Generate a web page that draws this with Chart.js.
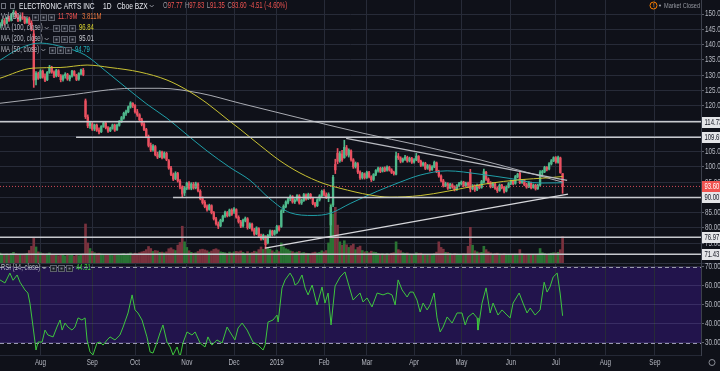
<!DOCTYPE html>
<html>
<head>
<meta charset="utf-8">
<title>Electronic Arts Inc - 1D - Cboe BZX</title>
<script src="https://cdn.jsdelivr.net/npm/chart.js@4.4.1/dist/chart.umd.min.js"></script>
<style>
    html, body { margin: 0; padding: 0; background: #0f1119; overflow: hidden; }
    canvas { display: block; }
</style>
</head>
<body>
<canvas id="price-chart" width="720" height="263"></canvas>
<canvas id="rsi-chart" width="720" height="108"></canvas>
<script>
// EA daily chart: price pane (candles, volume, MAs, drawn levels) + RSI pane

// x values are trading-day indexes, 0 = first candle on screen (early Jul 2018)
const monthIdx = [18, 41, 60, 83, 104, 123, 144, 163, 184, 205, 227, 247, 269, 291];
const monthLabels = ['Aug', 'Sep', 'Oct', 'Nov', 'Dec', '2019', 'Feb', 'Mar', 'Apr', 'May', 'Jun', 'Jul', 'Aug', 'Sep'];

const priceTicks = [75, 80, 85, 90, 95, 100, 105, 110, 115, 120, 125, 130, 135, 140, 145, 150];
const rsiTicks = [30, 40, 50, 60, 70];

const opens = [
    146.0, 146.9, 147.8, 147.0, 148.5, 148.0, 149.8, 150.5, 149.0, 148.0,
    149.0, 148.6, 147.3, 148.4, 147.0, 143.5, 128.5, 130.5, 129.2, 131.2,
    129.5, 128.5, 131.0, 132.4, 131.0, 129.8, 131.4, 129.8, 128.6, 129.8,
    130.2, 128.8, 129.7, 131.2, 130.0, 128.7, 130.5, 131.6, 121.6, 116.3,
    113.5, 114.0, 112.4, 113.6, 112.0, 111.5, 113.2, 114.3, 112.8, 111.8,
    112.6, 113.6, 112.1, 113.6, 114.9, 116.0, 117.5, 118.0, 119.6, 120.8,
    120.0, 118.0, 117.0, 115.4, 114.0, 112.2, 109.8, 107.0, 105.6, 106.6,
    104.0, 103.3, 104.8, 103.1, 104.4, 102.0, 99.6, 97.5, 96.2, 97.8,
    95.3, 93.4, 91.5, 93.0, 94.5, 93.0, 94.3, 93.2, 94.4, 92.0,
    89.6, 88.4, 87.0, 86.1, 87.3, 85.0, 83.0, 81.3, 80.7, 82.4,
    83.9, 85.0, 84.1, 85.8, 85.5, 86.0, 83.5, 82.0, 80.7, 82.5,
    83.0, 80.2, 81.2, 79.4, 78.1, 79.8, 77.4, 76.5, 77.2, 75.2,
    77.5, 79.0, 78.0, 78.5, 80.3, 80.5, 85.7, 87.0, 88.4, 89.5,
    90.2, 88.6, 89.2, 90.5, 88.2, 89.0, 90.8, 89.6, 91.0, 89.8,
    88.0, 87.3, 89.2, 90.6, 92.0, 90.8, 89.8, 81.0, 87.5, 100.8,
    104.5, 102.0, 104.2, 103.0, 106.2, 103.8, 105.2, 102.3, 100.1, 101.0,
    98.3, 96.5, 97.7, 96.5, 98.1, 96.7, 95.9, 97.5, 98.8, 99.5,
    98.6, 99.6, 98.9, 99.8, 99.0, 98.2, 97.6, 103.5, 102.9, 101.9,
    102.5, 103.1, 102.0, 102.7, 101.6, 102.3, 103.4, 101.8, 100.6, 101.1,
    99.6, 100.3, 99.1, 100.0, 101.3, 98.4, 97.0, 95.4, 93.9, 94.4,
    93.1, 94.1, 93.4, 92.6, 93.8, 94.5, 95.0, 93.9, 94.6, 98.0,
    92.9, 93.8, 92.6, 94.0, 93.3, 95.0, 98.2, 96.0, 94.8, 93.6,
    94.4, 93.0, 92.3, 94.0, 93.2, 92.1, 93.4, 94.6, 95.3, 94.6,
    96.8, 97.9, 94.9, 95.5, 94.2, 93.5, 94.7, 93.3, 94.0, 92.9,
    94.0, 98.1, 98.5, 99.8, 99.3, 101.0, 102.0, 103.0, 101.5, 102.9,
    97.77
];
const highs = [
    147.2, 148.3, 148.5, 149.0, 149.3, 150.2, 151.3, 151.0, 149.8, 149.6,
    150.4, 149.2, 148.8, 149.0, 147.8, 144.8, 131.2, 131.0, 131.8, 131.7,
    130.4, 131.2, 133.2, 132.9, 131.4, 131.9, 131.8, 130.2, 130.1, 130.8,
    130.6, 130.0, 131.6, 131.5, 130.3, 130.8, 132.0, 132.2, 122.2, 117.0,
    114.6, 114.5, 114.0, 114.0, 112.8, 113.5, 114.8, 114.7, 113.2, 113.0,
    114.0, 114.0, 114.0, 115.2, 116.5, 117.9, 118.6, 119.9, 121.3, 121.0,
    120.4, 118.8, 117.4, 115.9, 114.5, 112.6, 110.4, 107.8, 107.3, 107.0,
    104.8, 105.3, 105.2, 104.9, 104.8, 102.4, 100.2, 98.0, 98.4, 98.2,
    95.8, 93.8, 93.6, 95.0, 95.2, 94.8, 94.9, 95.0, 94.8, 92.5,
    90.2, 89.0, 87.6, 87.8, 87.6, 85.4, 83.5, 82.0, 82.9, 84.2,
    85.5, 85.4, 86.2, 86.3, 86.7, 86.3, 84.0, 82.5, 82.9, 83.6,
    83.4, 81.7, 81.6, 79.9, 80.4, 80.1, 78.0, 78.0, 77.5, 77.9,
    79.4, 79.3, 79.3, 80.9, 80.8, 86.0, 87.6, 88.9, 90.0, 90.8,
    90.6, 89.6, 90.9, 90.9, 89.5, 91.3, 91.2, 91.4, 91.3, 90.1,
    88.4, 89.6, 90.9, 92.4, 92.6, 91.5, 91.5, 87.5, 97.2, 102.5,
    106.0, 105.0, 105.4, 108.7, 107.0, 105.9, 105.6, 102.7, 101.6, 101.4,
    98.7, 98.2, 98.0, 98.6, 98.5, 97.1, 97.8, 99.1, 99.9, 99.9,
    99.9, 100.0, 100.3, 100.2, 99.4, 98.6, 104.8, 104.4, 103.3, 102.9,
    103.8, 103.5, 103.2, 103.1, 102.7, 104.4, 103.7, 102.2, 101.6, 101.5,
    100.8, 100.7, 100.4, 101.9, 101.6, 98.9, 97.4, 95.9, 95.0, 94.8,
    94.6, 94.5, 93.8, 94.2, 94.9, 95.4, 95.3, 95.0, 95.0, 99.2,
    94.2, 94.1, 94.4, 94.3, 95.6, 99.3, 98.5, 96.4, 95.2, 94.9,
    94.8, 93.5, 94.4, 94.3, 93.6, 93.8, 94.9, 95.7, 95.6, 97.2,
    97.9, 98.3, 95.9, 95.8, 94.6, 95.2, 95.0, 94.4, 94.3, 94.3,
    98.8, 98.9, 100.2, 100.1, 101.4, 102.4, 103.3, 103.4, 103.5, 103.2,
    97.83
];
const lows = [
    145.4, 146.2, 146.4, 146.8, 147.6, 147.7, 149.0, 148.8, 147.5, 147.6,
    148.2, 146.8, 146.9, 146.5, 144.5, 126.0, 126.8, 128.6, 128.9, 129.0,
    127.9, 128.2, 130.6, 130.6, 129.2, 129.4, 129.5, 127.8, 128.0, 129.0,
    128.3, 128.1, 129.3, 129.7, 128.2, 128.3, 130.1, 129.8, 115.8, 112.8,
    112.6, 111.9, 111.8, 111.6, 110.8, 111.2, 112.9, 112.4, 111.3, 111.5,
    112.3, 111.6, 111.9, 113.3, 114.5, 115.6, 116.8, 117.7, 119.2, 119.4,
    117.6, 116.5, 115.0, 113.4, 111.8, 109.5, 106.5, 105.0, 105.1, 103.6,
    102.7, 103.0, 102.6, 102.8, 102.0, 99.2, 97.1, 95.5, 95.8, 95.0,
    92.8, 90.2, 90.6, 92.5, 92.6, 92.5, 92.7, 92.8, 91.8, 89.2,
    87.8, 86.6, 85.5, 85.8, 84.6, 82.6, 80.9, 79.8, 80.4, 82.0,
    83.5, 83.6, 83.8, 84.1, 84.8, 83.2, 81.6, 80.1, 80.3, 82.0,
    79.6, 79.8, 79.0, 77.6, 77.8, 77.0, 76.0, 76.1, 73.4, 74.8,
    77.0, 77.4, 77.6, 78.2, 79.0, 80.2, 85.0, 86.6, 87.9, 88.9,
    88.1, 88.0, 88.8, 87.8, 87.7, 88.7, 89.1, 89.3, 89.5, 87.6,
    86.8, 87.0, 88.8, 90.2, 90.5, 89.6, 88.6, 77.5, 87.0, 97.8,
    101.0, 101.5, 101.8, 102.8, 103.5, 103.2, 101.9, 99.5, 99.6, 97.8,
    95.9, 96.0, 96.0, 96.2, 96.4, 95.2, 95.5, 97.1, 98.3, 98.1,
    98.3, 98.4, 98.6, 98.6, 97.8, 97.3, 97.4, 102.4, 101.3, 101.5,
    102.1, 101.5, 101.6, 101.1, 101.2, 102.0, 101.4, 100.1, 100.2, 99.1,
    99.2, 98.6, 98.8, 99.7, 98.1, 96.6, 95.1, 93.4, 93.5, 92.6,
    92.8, 93.0, 92.1, 92.3, 93.4, 94.1, 93.4, 93.5, 93.2, 91.8,
    92.5, 92.0, 92.2, 92.8, 93.0, 94.7, 95.6, 94.4, 93.1, 93.2,
    92.6, 91.6, 92.0, 92.8, 91.5, 91.8, 93.1, 94.2, 94.1, 94.3,
    96.4, 94.5, 94.6, 93.8, 93.0, 93.2, 92.8, 93.0, 92.4, 92.6,
    93.7, 97.4, 98.1, 98.7, 99.0, 100.6, 101.7, 101.2, 101.2, 97.9,
    91.35
];
const closes = [
    146.8, 147.9, 146.9, 148.6, 147.9, 149.8, 150.6, 149.2, 147.9, 149.1,
    148.6, 147.2, 148.4, 146.9, 145.2, 128.4, 130.6, 129.0, 131.4, 129.4,
    128.3, 130.9, 132.6, 131.0, 129.6, 131.5, 129.9, 128.5, 129.7, 130.3,
    128.7, 129.6, 131.3, 130.0, 128.6, 130.5, 131.7, 130.2, 116.4, 113.4,
    114.2, 112.3, 113.7, 112.0, 111.4, 113.2, 114.4, 112.8, 111.7, 112.7,
    113.7, 112.0, 113.6, 114.9, 116.1, 117.5, 118.1, 119.6, 120.9, 120.0,
    118.0, 117.0, 115.4, 113.9, 112.2, 110.0, 107.0, 105.5, 106.8, 104.0,
    103.2, 104.9, 103.0, 104.5, 102.4, 99.6, 97.5, 96.0, 97.9, 95.4,
    93.4, 91.1, 93.1, 94.6, 93.0, 94.4, 93.1, 94.5, 92.2, 89.6,
    88.3, 87.0, 86.0, 87.4, 85.0, 83.0, 81.4, 80.6, 82.5, 83.9,
    85.1, 84.0, 85.9, 84.5, 86.2, 83.6, 82.1, 80.6, 82.5, 83.1,
    80.1, 81.3, 79.4, 78.0, 80.0, 77.4, 76.4, 77.6, 74.6, 77.6,
    79.0, 77.9, 79.0, 80.5, 79.4, 85.6, 87.1, 88.5, 89.6, 90.3,
    88.5, 89.1, 90.6, 88.2, 89.1, 90.9, 89.5, 91.0, 89.9, 88.0,
    87.3, 89.2, 90.5, 92.0, 91.0, 90.0, 91.0, 86.8, 96.6, 99.0,
    101.8, 104.3, 102.3, 106.4, 104.0, 105.4, 102.4, 100.0, 101.2, 98.3,
    96.4, 97.8, 96.4, 98.2, 96.8, 95.8, 97.5, 98.8, 99.5, 98.5,
    99.6, 98.8, 99.9, 99.0, 98.2, 97.8, 103.6, 103.0, 101.8, 102.5,
    103.2, 101.9, 102.8, 101.5, 102.3, 103.5, 101.8, 100.5, 101.2, 99.5,
    100.4, 99.0, 100.0, 101.5, 98.5, 97.0, 95.5, 93.8, 94.5, 93.0,
    94.2, 93.5, 92.5, 93.8, 94.5, 95.0, 93.8, 94.6, 94.0, 92.8,
    93.8, 92.5, 94.0, 93.2, 95.2, 98.4, 96.0, 94.8, 93.5, 94.5,
    93.0, 92.2, 94.0, 93.2, 92.0, 93.4, 94.5, 95.3, 94.5, 96.8,
    97.5, 94.8, 95.5, 94.2, 93.4, 94.8, 93.2, 94.0, 92.8, 93.9,
    98.2, 98.5, 99.8, 99.2, 101.0, 102.0, 103.0, 101.6, 103.1, 98.11,
    93.60
];
// volume in millions of shares
const volumes = [
    4.5, 3.8, 3.5, 4.0, 3.6, 4.2, 4.8, 4.1, 3.9, 3.7,
    3.6, 4.0, 4.3, 5.6, 7.5, 11.5, 7.2, 5.0, 4.6, 4.2,
    4.0, 4.1, 4.5, 3.6, 3.5, 3.4, 3.3, 3.9, 3.6, 3.2,
    3.5, 3.4, 3.5, 3.1, 3.6, 3.3, 3.5, 4.0, 17.5, 9.0,
    6.5, 5.2, 4.6, 4.2, 4.4, 4.0, 3.9, 3.7, 3.8, 3.5,
    3.4, 3.6, 3.5, 3.7, 4.0, 4.2, 3.9, 4.1, 4.5, 3.8,
    4.4, 4.1, 4.6, 5.0, 5.3, 6.0, 7.4, 6.5, 5.2, 5.6,
    5.4, 4.8, 4.9, 4.6, 5.0, 6.4, 6.8, 6.0, 5.6, 8.0,
    9.2, 16.5, 9.5, 7.0, 5.5, 4.8, 4.4, 4.6, 5.2, 6.0,
    6.2, 5.9, 5.5, 4.9, 5.4, 6.1, 6.4, 5.9, 5.0, 4.8,
    4.6, 4.2, 4.9, 4.5, 5.0, 5.2, 5.0, 5.4, 4.8, 4.2,
    5.1, 4.4, 4.7, 5.3, 5.0, 6.0, 7.2, 6.1, 6.8, 7.0,
    6.2, 5.5, 4.9, 5.8, 5.1, 9.0, 7.2, 6.4, 6.0, 5.4,
    5.1, 4.6, 4.9, 5.2, 4.5, 4.7, 4.4, 4.3, 4.1, 4.6,
    4.9, 4.5, 4.8, 5.5, 5.0, 5.6, 9.0, 26.5, 22.0, 25.0,
    17.0, 9.5, 8.0, 10.0, 8.2, 7.0, 7.8, 8.5, 6.0, 7.0,
    7.6, 5.6, 5.0, 5.2, 4.6, 5.3, 4.9, 4.8, 4.3, 4.0,
    4.1, 3.9, 4.2, 3.8, 4.4, 4.6, 9.5, 6.0, 5.5, 4.6,
    4.4, 4.5, 4.0, 3.9, 3.8, 4.6, 4.3, 4.4, 3.6, 3.9,
    3.5, 3.7, 3.4, 4.1, 4.9, 9.5, 7.0, 6.2, 4.8, 4.7,
    4.3, 3.9, 4.2, 4.0, 3.8, 3.7, 4.1, 4.0, 7.5, 16.0,
    8.0, 5.5, 5.0, 4.6, 4.8, 7.5, 6.0, 5.0, 4.5, 4.0,
    4.2, 4.4, 4.0, 3.7, 4.1, 3.9, 3.8, 3.6, 3.5, 4.0,
    3.9, 6.0, 4.1, 3.8, 3.7, 3.6, 3.9, 3.5, 3.8, 3.6,
    6.5, 4.6, 4.2, 3.9, 4.1, 4.4, 4.6, 4.5, 4.8, 6.0,
    11.79
];
const volumeMa20 = 3.811;

// moving averages at a few points each
const ma100Idx = [0, 14.7, 26.7, 38.7, 48.9, 62.2, 74.2, 83.1, 92, 100.9, 106.7, 115.6, 124.4, 133.3, 143.6, 151.1, 164.4, 173.3, 186.7, 198.7, 205.8, 216.4, 231.1, 243.1, 250];
const ma100Val = [129.0, 132.3, 132.5, 133.3, 132.5, 131.0, 128.4, 125.1, 120.8, 115.6, 112.3, 107.0, 102.0, 98.0, 94.6, 93.0, 90.8, 90.1, 90.6, 92.0, 93.0, 94.5, 95.8, 96.4, 96.84];
const ma200Idx = [0, 29.8, 59.1, 71.1, 88.9, 106.7, 132, 161.3, 186.7, 213.3, 231.1, 250];
const ma200Val = [120.8, 123.4, 125.7, 125.7, 124.1, 120.8, 116.2, 111.0, 107.0, 102.3, 98.8, 95.01];
const ma50Idx = [0, 8.9, 17.8, 28.9, 37.8, 46.7, 56.4, 65.3, 74.2, 83.1, 92, 102.2, 111.1, 120, 128.9, 139.1, 146.7, 155.6, 167.6, 177.8, 186.7, 198.7, 213.3, 226.7, 240, 250];
const ma50Val = [134.9, 138.8, 140.5, 139.0, 136.6, 131.5, 125.7, 120.5, 115.9, 110.5, 105.2, 99.8, 95.6, 89.5, 85.0, 84.1, 84.8, 88.0, 92.0, 95.0, 97.3, 98.7, 97.6, 96.2, 94.7, 94.79];

// user drawings: horizontal levels and two trend lines
const levelValues = [114.73, 109.65, 90.00, 76.97, 71.43];
const levelStart = [0, 33.8, 76.9, 0, 0];
const supportIdx = [117.8, 252.4];
const supportVal = [73.4, 91.1];
const resistIdx = [153.8, 252.0];
const resistVal = [109.3, 95.6];

// RSI (14, close)
const rsiIdx = [
    0, 2.2, 4.4, 5.8, 7.6, 8.9, 11.1, 12.4, 13.3, 14.7,
    16, 16.9, 18.7, 20, 21.3, 23.6, 25.3, 26.7, 27.6, 28.9,
    30.2, 32, 33.3, 34.7, 36.4, 37.8, 38.7, 40, 41.3, 43.1,
    44.4, 45.8, 47.6, 48.9, 51.1, 53.3, 54.7, 56.9, 58.7, 60,
    61.3, 63.1, 65.3, 66.7, 68, 69.8, 71.1, 72.4, 74.2, 75.6,
    76.9, 78.7, 80, 81.3, 83.1, 85.3, 86.7, 88.9, 91.1, 92.4,
    94.2, 96.4, 98.7, 100.9, 102.2, 104.4, 105.8, 107.6, 109.8, 112.4,
    114.7, 116.9, 117.8, 119.1, 121.3, 123.1, 123.6, 125.3, 126.7, 128.9,
    130.2, 131.1, 132.4, 134.2, 135.6, 136.9, 138.7, 140.9, 143.1, 144.4,
    145.8, 147.1, 148.9, 151.1, 153.3, 154.7, 156.9, 159.1, 160, 161.3,
    163.1, 165.3, 167.6, 170.2, 172.4, 174.2, 175.6, 176.9, 178.7, 180.9,
    182.2, 183.6, 185.3, 186.7, 188, 189.8, 191.1, 192.9, 194.2, 195.6,
    196.9, 198.7, 200.9, 203.1, 205.3, 206.7, 208, 210.2, 212, 212.4,
    214.2, 216, 217.8, 219.1, 221.3, 223.1, 225.3, 226.7, 228, 230.7,
    232.4, 234.2, 235.6, 237.8, 240, 241.8, 243.1, 244.4, 245.8, 247.6,
    248.9, 250
];
const rsiVal = [
    63.2, 61.6, 66.8, 63, 65.8, 62, 57.9, 56.3, 51, 38.4,
    26.3, 30.5, 30.5, 36.8, 34.2, 33.2, 38.4, 42.1, 36.8, 40.5,
    38.4, 36.8, 38.4, 43.2, 42.1, 43.2, 31.6, 25.3, 23.7, 30,
    30.5, 28.9, 31.6, 33.2, 31.6, 34.2, 38.4, 45.8, 55.3, 47.4,
    45.8, 42.1, 33.2, 25.3, 24.7, 30.5, 35.3, 39.5, 30.5, 27.9,
    23.7, 27.9, 22.6, 30, 35.8, 34.2, 35.8, 30, 27.9, 33.2,
    28.9, 31.6, 30, 38.4, 35.8, 31.6, 37.9, 40.5, 36.8, 30.5,
    28.9, 26.3, 28.9, 41, 42.1, 44.7, 41, 58.9, 63.2, 66.8,
    64.2, 60.5, 61.6, 65.8, 58.9, 55.3, 60.5, 50, 59.5, 51,
    56.3, 39.5, 60, 64.7, 67.4, 61.6, 52.6, 55.3, 56.3, 51.6,
    53.7, 49, 56.3, 55.3, 56.3, 55.3, 50, 63.2, 57.9, 54.2,
    56.8, 56.8, 52.6, 46.3, 51, 47.4, 50, 56.3, 43.2, 35.8,
    38.4, 43.7, 40.5, 45.8, 45.8, 39.5, 43.7, 45.8, 43.2, 36.8,
    51, 59, 45.8, 51, 44.7, 47.4, 44.7, 43.2, 51, 56.3,
    51, 45.8, 48.4, 44.7, 47.4, 62, 56.8, 59.5, 64.7, 66.8,
    56.3, 44.31
];

const BG = '#0f1119';
const GRID = '#272b38';
const AXIS_LINE = '#3c404c';
const LABEL = '#b4b7c0';
const AXIS_TEXT = '#b4b7c0';
const UP = '#4fb98c';
const DOWN = '#ea5060';
const VOL_UP = '#2a7434';
const VOL_DOWN = '#7a323e';
const RED_TEXT = '#ef5350';
const MA100_COLOR = '#c9c233';
const MA200_COLOR = '#a9abb2';
const MA50_COLOR = '#1f9fa8';
const RSI_COLOR = '#3ec63e';
const FONT = '"Liberation Sans", Arial, sans-serif';
const SQUEEZE = 0.7;   // text in the screenshot is horizontally squeezed
const X_MAX = 311.5;
const AXIS_WIDTH = 19;

document.addEventListener('DOMContentLoaded', function() {
    initializePriceChart();
    initializeRsiChart();
});

/**
 * Draw squeezed text, returns right edge
 */
function drawText(ctx, text, x, y, size, color, align, bold) {
    ctx.save();
    ctx.font = (bold ? 'bold ' : '') + size + 'px ' + FONT;
    ctx.fillStyle = color;
    ctx.textBaseline = 'middle';
    const w = ctx.measureText(text).width * SQUEEZE;
    let left = x;
    if (align === 'center') left = x - w / 2;
    if (align === 'right') left = x - w;
    ctx.translate(left, y);
    ctx.scale(SQUEEZE, 1);
    ctx.fillText(text, 0, 0);
    ctx.restore();
    return left + w;
}

function drawChevron(ctx, x, y) {
    ctx.save();
    ctx.strokeStyle = '#8a8d96';
    ctx.lineWidth = 1;
    ctx.beginPath();
    ctx.moveTo(x, y - 1);
    ctx.lineTo(x + 2, y + 1);
    ctx.lineTo(x + 4, y - 1);
    ctx.stroke();
    ctx.restore();
}

// the three little buttons next to each study name
function drawStudyButtons(ctx, x, y) {
    ctx.save();
    ctx.lineWidth = 1;
    for (let i = 0; i < 3; i++) {
        const bx = Math.round(x + i * 8) + 0.5;
        const by = Math.round(y - 3) + 0.5;
        ctx.fillStyle = '#1b1e28';
        ctx.fillRect(bx, by, 6, 6);
        ctx.strokeStyle = '#5c606b';
        ctx.strokeRect(bx, by, 6, 6);
        ctx.fillStyle = '#7c7f89';
        ctx.fillRect(bx + 2, by + 2, 2, 2);
    }
    ctx.restore();
}

function drawStudyRow(ctx, y, name, buttonsX, values) {
    const end = drawText(ctx, name, 1, y, 8.5, LABEL);
    drawChevron(ctx, end + 2, y);
    drawStudyButtons(ctx, buttonsX, y);
    values.forEach(v => drawText(ctx, v.text, v.x, y, 8.5, v.color));
}

function drawBadge(ctx, y, text, fill, color) {
    ctx.save();
    ctx.fillStyle = fill;
    ctx.fillRect(702, Math.round(y) - 5, 18, 11);
    ctx.restore();
    drawText(ctx, text, 704.5, y + 0.5, 8.5, color);
}

function lineSet(label, xs, ys, color, order, extra) {
    return Object.assign({
        type: 'line',
        label: label,
        data: xs.map((x, i) => ({ x: x, y: ys[i] })),
        borderColor: color,
        borderWidth: 1,
        pointRadius: 0,
        fill: false,
        order: order
    }, extra || {});
}

const priceDecor = {
    id: 'priceDecor',
    beforeDraw(chart) {
        const ctx = chart.ctx;
        ctx.save();
        ctx.fillStyle = BG;
        ctx.fillRect(0, 0, chart.width, chart.height);
        ctx.restore();
    },
    afterDraw(chart) {
        const ctx = chart.ctx;
        const y = chart.scales.y;
        const last = closes.length - 1;

        priceTicks.forEach(v => drawText(ctx, v.toFixed(2), 705, y.getPixelForValue(v), 9, AXIS_TEXT));
        levelValues.forEach(v => drawBadge(ctx, y.getPixelForValue(v), v.toFixed(2), '#e4e5e8', '#141722'));
        drawBadge(ctx, y.getPixelForValue(closes[last]), closes[last].toFixed(2), '#ef5350', '#ffffff');

        // symbol header
        ctx.save();
        ctx.strokeStyle = '#70737d';
        ctx.strokeRect(1.5, 3.5, 4, 5);
        ctx.strokeRect(10.5, 3.5, 4, 5);
        ctx.restore();
        drawText(ctx, 'ELECTRONIC ARTS INC', 19, 6, 9.5, '#e6e8ee');
        drawText(ctx, '1D', 103, 6, 9.5, '#e6e8ee');
        let x = drawText(ctx, 'Cboe BZX', 117, 6, 9.5, '#e6e8ee');
        drawChevron(ctx, x + 2, 6);

        const change = closes[last] - closes[last - 1];
        const pct = change / closes[last - 1] * 100;
        x = 163;
        [['O', opens[last]], ['H', highs[last]], ['L', lows[last]], ['C', closes[last]]].forEach(([k, v]) => {
            x = drawText(ctx, k, x, 6, 8.5, '#9598a1');
            x = drawText(ctx, v.toFixed(2), x, 6, 8.5, RED_TEXT) + 2.5;
        });
        drawText(ctx, change.toFixed(2) + ' (' + pct.toFixed(2) + '%)', x, 6, 8.5, RED_TEXT);

        drawStudyRow(ctx, 17, 'Vol (20)', 32, [
            { text: volumes[last].toFixed(2) + 'M', x: 58, color: RED_TEXT },
            { text: volumeMa20.toFixed(3) + 'M', x: 82, color: '#e8743b' }
        ]);
        drawStudyRow(ctx, 28, 'MA (100, close)', 53, [{ text: ma100Val[ma100Val.length - 1].toFixed(2), x: 79, color: '#d8d22e' }]);
        drawStudyRow(ctx, 39, 'MA (200, close)', 53, [{ text: ma200Val[ma200Val.length - 1].toFixed(2), x: 79, color: '#c9cbd1' }]);
        drawStudyRow(ctx, 50, 'MA (50, close)', 49, [{ text: ma50Val[ma50Val.length - 1].toFixed(2), x: 75, color: '#23b6c0' }]);

        // market status
        ctx.save();
        ctx.strokeStyle = '#f57c00';
        ctx.lineWidth = 1;
        ctx.beginPath();
        ctx.arc(653.5, 5.5, 3.5, 0, Math.PI * 2);
        ctx.stroke();
        ctx.fillStyle = '#9598a1';
        ctx.beginPath();
        ctx.arc(660, 5.5, 1.1, 0, Math.PI * 2);
        ctx.fill();
        ctx.restore();
        drawText(ctx, '!', 653.5, 5.5, 6, '#f57c00', 'center', true);
        drawText(ctx, 'Market Closed', 664, 5.5, 8, '#9598a1');
    }
};

/**
 * Price pane: candles, volume, moving averages and drawings
 */
function initializePriceChart() {
    const ctx = document.getElementById('price-chart').getContext('2d');
    const candleColors = closes.map((c, i) => c >= opens[i] ? UP : DOWN);
    const volumeColors = closes.map((c, i) => c >= opens[i] ? VOL_UP : VOL_DOWN);

    const datasets = [
        {
            type: 'bar',
            label: 'Volume',
            yAxisID: 'yVol',
            data: volumes.map((v, i) => ({ x: i, y: v })),
            backgroundColor: volumeColors,
            barThickness: 2,
            grouped: false,
            order: 10
        },
        {
            type: 'bar',
            label: 'Wicks',
            data: highs.map((h, i) => ({ x: i, y: [lows[i], h] })),
            backgroundColor: candleColors,
            barThickness: 1,
            grouped: false,
            order: 7
        },
        {
            type: 'bar',
            label: 'Bodies',
            data: opens.map((o, i) => ({ x: i, y: [o, closes[i]] })),
            backgroundColor: candleColors,
            barThickness: 1.7,
            minBarLength: 1,
            grouped: false,
            order: 6
        },
        lineSet('MA 100', ma100Idx, ma100Val, MA100_COLOR, 4, { cubicInterpolationMode: 'monotone' }),
        lineSet('MA 200', ma200Idx, ma200Val, MA200_COLOR, 4, { cubicInterpolationMode: 'monotone' }),
        lineSet('MA 50', ma50Idx, ma50Val, MA50_COLOR, 4, { cubicInterpolationMode: 'monotone' }),
        lineSet('Support', supportIdx, supportVal, '#d6d7db', 2, { borderWidth: 1.3 }),
        lineSet('Resistance', resistIdx, resistVal, '#b9bbc1', 2, { borderWidth: 1.3 }),
        lineSet('Last', [0, X_MAX], [closes[closes.length - 1], closes[closes.length - 1]], '#d24a57', 1, { borderDash: [1, 2] })
    ];
    levelValues.forEach((v, i) => {
        datasets.push(lineSet('Level ' + v, [levelStart[i], X_MAX], [v, v], '#c7c9ce', 2, { borderWidth: 1.5 }));
    });

    new Chart(ctx, {
        type: 'bar',
        data: { datasets: datasets },
        options: {
            responsive: false,
            animation: false,
            devicePixelRatio: 1,
            events: [],
            layout: { padding: 0 },
            plugins: { legend: { display: false }, tooltip: { enabled: false } },
            scales: {
                x: {
                    type: 'linear',
                    min: 0,
                    max: X_MAX,
                    offset: false,
                    grid: { color: GRID, drawTicks: false, offset: false },
                    border: { display: false },
                    ticks: { display: false },
                    afterBuildTicks: s => { s.ticks = monthIdx.map(v => ({ value: v })); },
                    afterFit: s => { s.height = 0; s.paddingLeft = 0; s.paddingRight = 0; }
                },
                y: {
                    position: 'right',
                    min: 68.55,
                    max: 154.58,
                    grid: { color: GRID, tickLength: 3, tickColor: '#5d606b' },
                    border: { color: AXIS_LINE },
                    ticks: { display: false },
                    afterBuildTicks: s => { s.ticks = priceTicks.map(v => ({ value: v })); },
                    afterFit: s => { s.width = AXIS_WIDTH; s.paddingTop = 0; s.paddingBottom = 0; }
                },
                yVol: {
                    display: false,
                    min: 0,
                    max: 118
                }
            }
        },
        plugins: [priceDecor]
    });
}

const rsiDecor = {
    id: 'rsiDecor',
    beforeDraw(chart) {
        const ctx = chart.ctx;
        const area = chart.chartArea;
        const y = chart.scales.y;
        ctx.save();
        ctx.fillStyle = BG;
        ctx.fillRect(0, 0, chart.width, chart.height);
        ctx.fillStyle = '#22144c';
        const top = y.getPixelForValue(70);
        ctx.fillRect(area.left, top, area.right - area.left, y.getPixelForValue(30) - top);
        ctx.strokeStyle = '#2e3240';
        ctx.beginPath();
        ctx.moveTo(0, 0.5);
        ctx.lineTo(chart.width, 0.5);
        ctx.stroke();
        ctx.restore();
    },
    beforeDatasetsDraw(chart) {
        const ctx = chart.ctx;
        const area = chart.chartArea;
        const y = chart.scales.y;
        ctx.save();
        ctx.strokeStyle = '#9a9aae';
        ctx.lineWidth = 1;
        ctx.setLineDash([4, 3]);
        [70, 30].forEach(v => {
            const py = Math.round(y.getPixelForValue(v)) + 0.5;
            ctx.beginPath();
            ctx.moveTo(area.left, py);
            ctx.lineTo(area.right, py);
            ctx.stroke();
        });
        ctx.restore();
    },
    afterDraw(chart) {
        const ctx = chart.ctx;
        const x = chart.scales.x;
        const y = chart.scales.y;
        const labelY = chart.chartArea.bottom + 7.5;
        rsiTicks.forEach(v => drawText(ctx, v.toFixed(2), 705, y.getPixelForValue(v), 9, AXIS_TEXT));
        monthIdx.forEach((v, i) => drawText(ctx, monthLabels[i], x.getPixelForValue(v), labelY, 9, AXIS_TEXT, 'center'));

        drawStudyRow(ctx, 5, 'RSI (14, close)', 50, [{ text: rsiVal[rsiVal.length - 1].toFixed(2), x: 76, color: '#35d035' }]);

        // chart settings gear
        ctx.save();
        ctx.strokeStyle = '#8a8d96';
        ctx.lineWidth = 1;
        ctx.beginPath();
        ctx.arc(712, labelY, 3, 0, Math.PI * 2);
        ctx.stroke();
        ctx.restore();
    }
};

/**
 * RSI pane with the month axis underneath
 */
function initializeRsiChart() {
    const ctx = document.getElementById('rsi-chart').getContext('2d');

    new Chart(ctx, {
        type: 'line',
        data: {
            datasets: [lineSet('RSI', rsiIdx, rsiVal, RSI_COLOR, 1)]
        },
        options: {
            responsive: false,
            animation: false,
            devicePixelRatio: 1,
            events: [],
            layout: { padding: 0 },
            plugins: { legend: { display: false }, tooltip: { enabled: false } },
            scales: {
                x: {
                    type: 'linear',
                    min: 0,
                    max: X_MAX,
                    grid: { color: GRID, drawTicks: false },
                    border: { color: '#252936' },
                    ticks: { display: false },
                    afterBuildTicks: s => { s.ticks = monthIdx.map(v => ({ value: v })); },
                    afterFit: s => { s.height = 16; s.paddingLeft = 0; s.paddingRight = 0; }
                },
                y: {
                    position: 'right',
                    min: 23.68,
                    max: 72.1,
                    grid: { color: 'rgba(120, 110, 165, 0.28)', tickLength: 3, tickColor: '#5d606b' },
                    border: { color: AXIS_LINE },
                    ticks: { display: false },
                    afterBuildTicks: s => { s.ticks = rsiTicks.map(v => ({ value: v })); },
                    afterFit: s => { s.width = AXIS_WIDTH; s.paddingTop = 0; s.paddingBottom = 0; }
                }
            }
        },
        plugins: [rsiDecor]
    });
}
</script>
</body>
</html>
